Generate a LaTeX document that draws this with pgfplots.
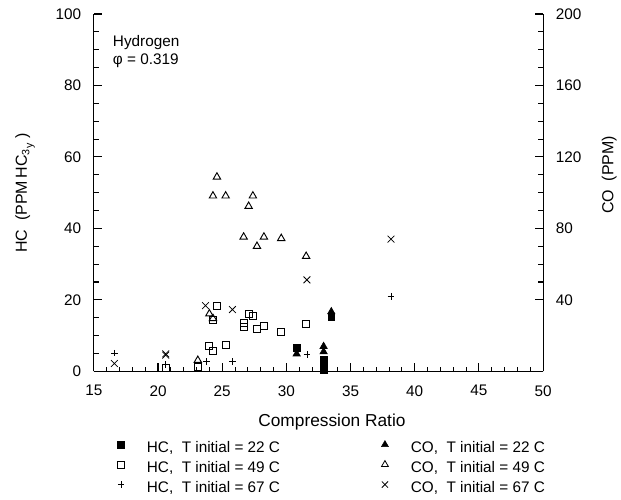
\documentclass[border=0pt]{standalone}
\usepackage{fontspec}
\setmainfont{Liberation Sans}
\usepackage{pgfplots}
\pgfplotsset{compat=1.18}
\usetikzlibrary{calc}

\begin{document}
\begin{tikzpicture}[font=\fontsize{11.5}{13.5}\selectfont]
\pgfplotsset{
  common/.style={scale only axis,width=337.5pt,height=268.5pt,xmin=15,xmax=50,clip=false,
    tick align=inside,major tick length=6pt,minor tick length=3.5pt,
    axis line style={line width=0.8pt},every tick/.style={black,line width=0.8pt},
    /pgf/number format/assume math mode=true,
    ticklabel style={font=\fontsize{11.5}{13.5}\selectfont}},
  mk/.style={legend image code/.code={%
    \path[draw=none,fill=none] (-6pt,0pt) -- (18.5pt,0pt);
    \draw[##1] plot coordinates {(0pt,3pt)};}},
}
\begin{axis}[common,axis x line*=bottom,axis y line*=left,ymin=0,ymax=100,
  xtick={15,20,...,50},minor x tick num=4,ytick={0,20,...,100},minor y tick num=3,
  xticklabel style={yshift=-7pt},yticklabel style={xshift=-6pt},
  xlabel={Compression Ratio},xlabel style={font=\fontsize{13}{15}\selectfont,at={(axis description cs:0.53,-0.142)},anchor=center},
  ylabel={HC~~(PPM\,HC\textsubscript{3}\raisebox{-0.4ex}{\textsubscript{y}}~)},ylabel style={font=\fontsize{12}{14}\selectfont,at={(axis description cs:-0.153,0.5)},anchor=center}]
% HC, T initial = 22 C
\addplot[only marks,mark=square*,mark size=2.6pt,black] coordinates {(30.8,6.7)(32.9,3.2)(32.9,1.4)(32.9,0.4)(33.5,15.2)};
% HC, T initial = 49 C
\addplot[only marks,mark=square,mark size=2.6pt,black,mark options={line width=0.7pt}] coordinates {
  (20.6,0.9)(23.1,1.2)(23.97,7.2)(24.28,5.6)(25.27,7.4)(24.59,18.4)(24.28,14.4)(27.06,16.1)
  (27.39,15.4)(26.67,13.5)(26.67,12.4)(28.25,12.8)(27.71,11.9)(29.6,11.1)(31.54,13.3)};
% HC, T initial = 67 C
\addplot[only marks,mark=+,mark size=2.5pt,black,mark options={line width=0.6pt}] coordinates {
  (16.6,5.1)(20.6,1.9)(23.8,2.8)(25.8,2.8)(31.6,4.7)(38.15,21)};
\coordinate (O) at (rel axis cs:0,0);
\coordinate (T) at (rel axis cs:1,1);
\node[anchor=north west,align=left,inner sep=0pt] at (rel axis cs:0.042,0.94) {Hydrogen\\φ = 0.319};
\end{axis}
\begin{axis}[common,axis x line=none,axis y line*=right,ymin=0,ymax=200,
  ytick={40,80,...,200},minor y tick num=3,yticklabel style={xshift=6pt},
  ylabel={CO~~(PPM)},ylabel style={font=\fontsize{12}{14}\selectfont,at={(axis description cs:1.147,0.55)},anchor=center},
  legend columns=2,legend cell align=left,
  legend style={at={(axis description cs:0.042,-0.192)},anchor=north west,draw=none,fill=none,inner sep=0pt,
    nodes={inner sep=1pt,text height=8.5pt,text depth=2pt},
    row sep=2.5pt,/tikz/every even column/.append style={column sep=71.8pt}}]
% CO, T initial = 22 C
\addplot[only marks,mark=triangle*,mark size=3.2pt,black,forget plot] coordinates {(30.8,9.8)(32.9,14)(32.9,11)(33.5,33.4)};
% CO, T initial = 49 C
\addplot[only marks,mark=triangle,mark size=3.2pt,black,mark options={line width=0.7pt},forget plot] coordinates {
  (23.1,6.2)(24.0,32.2)(24.28,29.6)(24.28,98.2)(24.59,108.8)(25.27,98.2)(27.06,92.4)(27.39,98.2)
  (26.67,75.2)(28.25,75.2)(27.71,70.0)(29.6,74.4)(31.54,64.4)};
% CO, T initial = 67 C
\addplot[only marks,mark=x,mark size=3.6pt,black,mark options={line width=0.6pt},forget plot] coordinates {
  (16.6,4.4)(20.6,9.8)(20.6,9.1)(23.7,36.8)(25.8,34.6)(31.6,51.2)(38.15,74)};
\addlegendimage{mk,only marks,mark=square*,mark size=2.8pt,black}
\addlegendentry{HC,~~T initial = 22 C}
\addlegendimage{mk,only marks,mark=triangle*,mark size=3pt,black}
\addlegendentry{CO,~~T initial = 22 C}
\addlegendimage{mk,only marks,mark=square,mark size=2.6pt,black,mark options={line width=0.6pt}}
\addlegendentry{HC,~~T initial = 49 C}
\addlegendimage{mk,only marks,mark=triangle,mark size=3pt,black,mark options={line width=0.6pt}}
\addlegendentry{CO,~~T initial = 49 C}
\addlegendimage{mk,only marks,mark=+,mark size=2.4pt,black,mark options={line width=0.6pt}}
\addlegendentry{HC,~~T initial = 67 C}
\addlegendimage{mk,only marks,mark=x,mark size=3.3pt,black,mark options={line width=0.6pt}}
\addlegendentry{CO,~~T initial = 67 C}
\end{axis}
\path ($(O)+(-70.5pt,-96pt)$) rectangle ($(T)+(57.75pt,10.5pt)$);
\end{tikzpicture}
\end{document}
